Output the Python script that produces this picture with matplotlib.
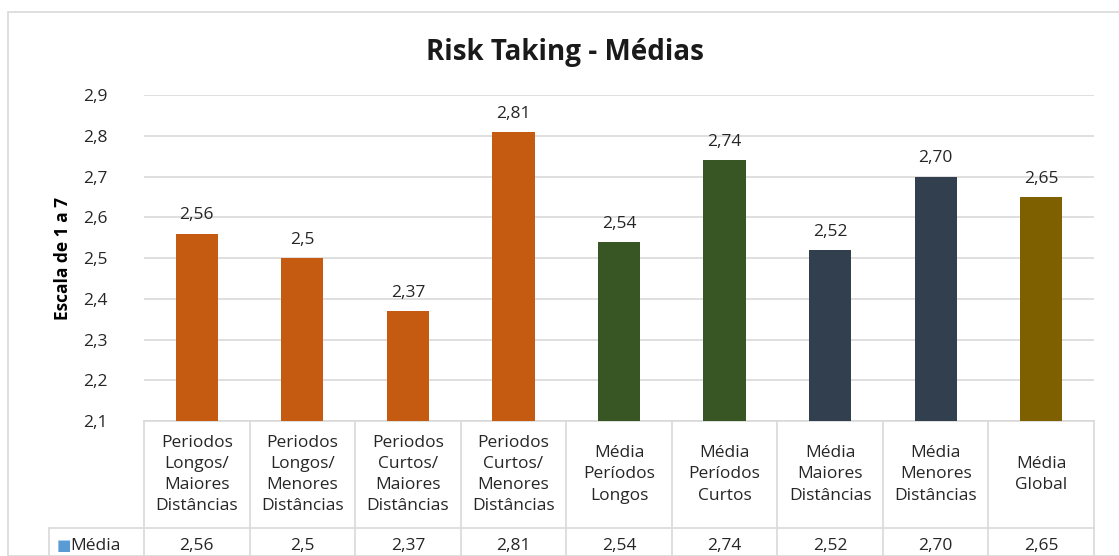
import matplotlib
matplotlib.use("Agg")
from matplotlib import pyplot as plt
from matplotlib.patches import Rectangle
from matplotlib.ticker import FuncFormatter
import matplotlib.transforms as mtransforms

plt.rcParams['font.family'] = ['Open Sans', 'DejaVu Sans']

# dados
categorias = [
    "Periodos\nLongos/\nMaiores\nDistâncias",
    "Periodos\nLongos/\nMenores\nDistâncias",
    "Periodos\nCurtos/\nMaiores\nDistâncias",
    "Periodos\nCurtos/\nMenores\nDistâncias",
    "Média\nPeríodos\nLongos",
    "Média\nPeríodos\nCurtos",
    "Média\nMaiores\nDistâncias",
    "Média\nMenores\nDistâncias",
    "Média\nGlobal",
]
valores = [2.56, 2.5, 2.37, 2.81, 2.54, 2.74, 2.52, 2.70, 2.65]
rotulos = ["2,56", "2,5", "2,37", "2,81", "2,54", "2,74", "2,52", "2,70", "2,65"]
cores = ["#C55A11"] * 4 + ["#375623"] * 2 + ["#323F4F"] * 2 + ["#7F6000"]

fig = plt.figure(figsize=(11.19, 5.56), dpi=100)
ax = fig.add_axes([0.1287, 0.2428, 0.849, 0.5863])

x = list(range(len(valores)))
ax.bar(x, valores, width=0.4, color=cores, zorder=3)
for xi, v, r in zip(x, valores, rotulos):
    ax.text(xi, v + 0.025, r, ha='center', va='bottom', fontsize=12.5, color='#262626')

ax.set_xlim(-0.5, len(valores) - 0.5)
ax.set_ylim(2.1, 2.9)
ax.set_yticks([2.1, 2.2, 2.3, 2.4, 2.5, 2.6, 2.7, 2.8, 2.9])
ax.yaxis.set_major_formatter(FuncFormatter(lambda v, p: f"{v:.1f}".replace('.', ',')))
ax.tick_params(axis='y', length=0, pad=26, labelsize=12.5, labelcolor='#262626')
ax.set_xticks([])
ax.grid(axis='y', color='#D9D9D9', linewidth=1.2, zorder=0)
for s in ax.spines.values():
    s.set_visible(False)

ax.set_ylabel("Escala de 1 a 7", fontsize=12.5, fontweight='bold', labelpad=8)
fig.text(0.505, 0.906, "Risk Taking - Médias", ha='center', va='center',
         fontsize=20, fontweight='bold', color='#1a1a1a')

# tabela de dados
trans = mtransforms.blended_transform_factory(ax.transData, ax.transAxes)
lc = '#D9D9D9'
y0, y1, y2 = 0.0, -0.328, -0.45
for i in range(len(valores) + 1):
    ax.plot([i - 0.5, i - 0.5], [y0, y2], transform=trans, color=lc, lw=1.2, clip_on=False)
ax.plot([-0.5, len(valores) - 0.5], [y0, y0], transform=trans, color=lc, lw=1.2, clip_on=False)
ax.plot([-1.4, len(valores) - 0.5], [y1, y1], transform=trans, color=lc, lw=1.2, clip_on=False)
ax.plot([-1.4, -1.4], [y1, y2], transform=trans, color=lc, lw=1.2, clip_on=False)
for xi, c, r in zip(x, categorias, rotulos):
    ax.text(xi, (y0 + y1) / 2, c, transform=trans, ha='center', va='center',
            fontsize=12.5, linespacing=1.42, color='#262626', clip_on=False)
    ax.text(xi, y1 - 0.055, r, transform=trans, ha='center', va='center',
            fontsize=12.5, color='#262626', clip_on=False)
ax.text(-1.33, y1 - 0.055, "■", transform=trans, ha='left', va='center',
        fontsize=11, color='#5B9BD5', clip_on=False, family='DejaVu Sans')
ax.text(-1.2, y1 - 0.055, "Média", transform=trans, ha='left', va='center',
        fontsize=12.5, color='#262626', clip_on=False)

# borda do gráfico
fig.patches.append(Rectangle((8 / 1119, 0), 1.2, (556 - 12) / 556, transform=fig.transFigure,
                             fill=False, edgecolor='#D9D9D9', lw=1.2))

fig.savefig("out.png", dpi=100)
